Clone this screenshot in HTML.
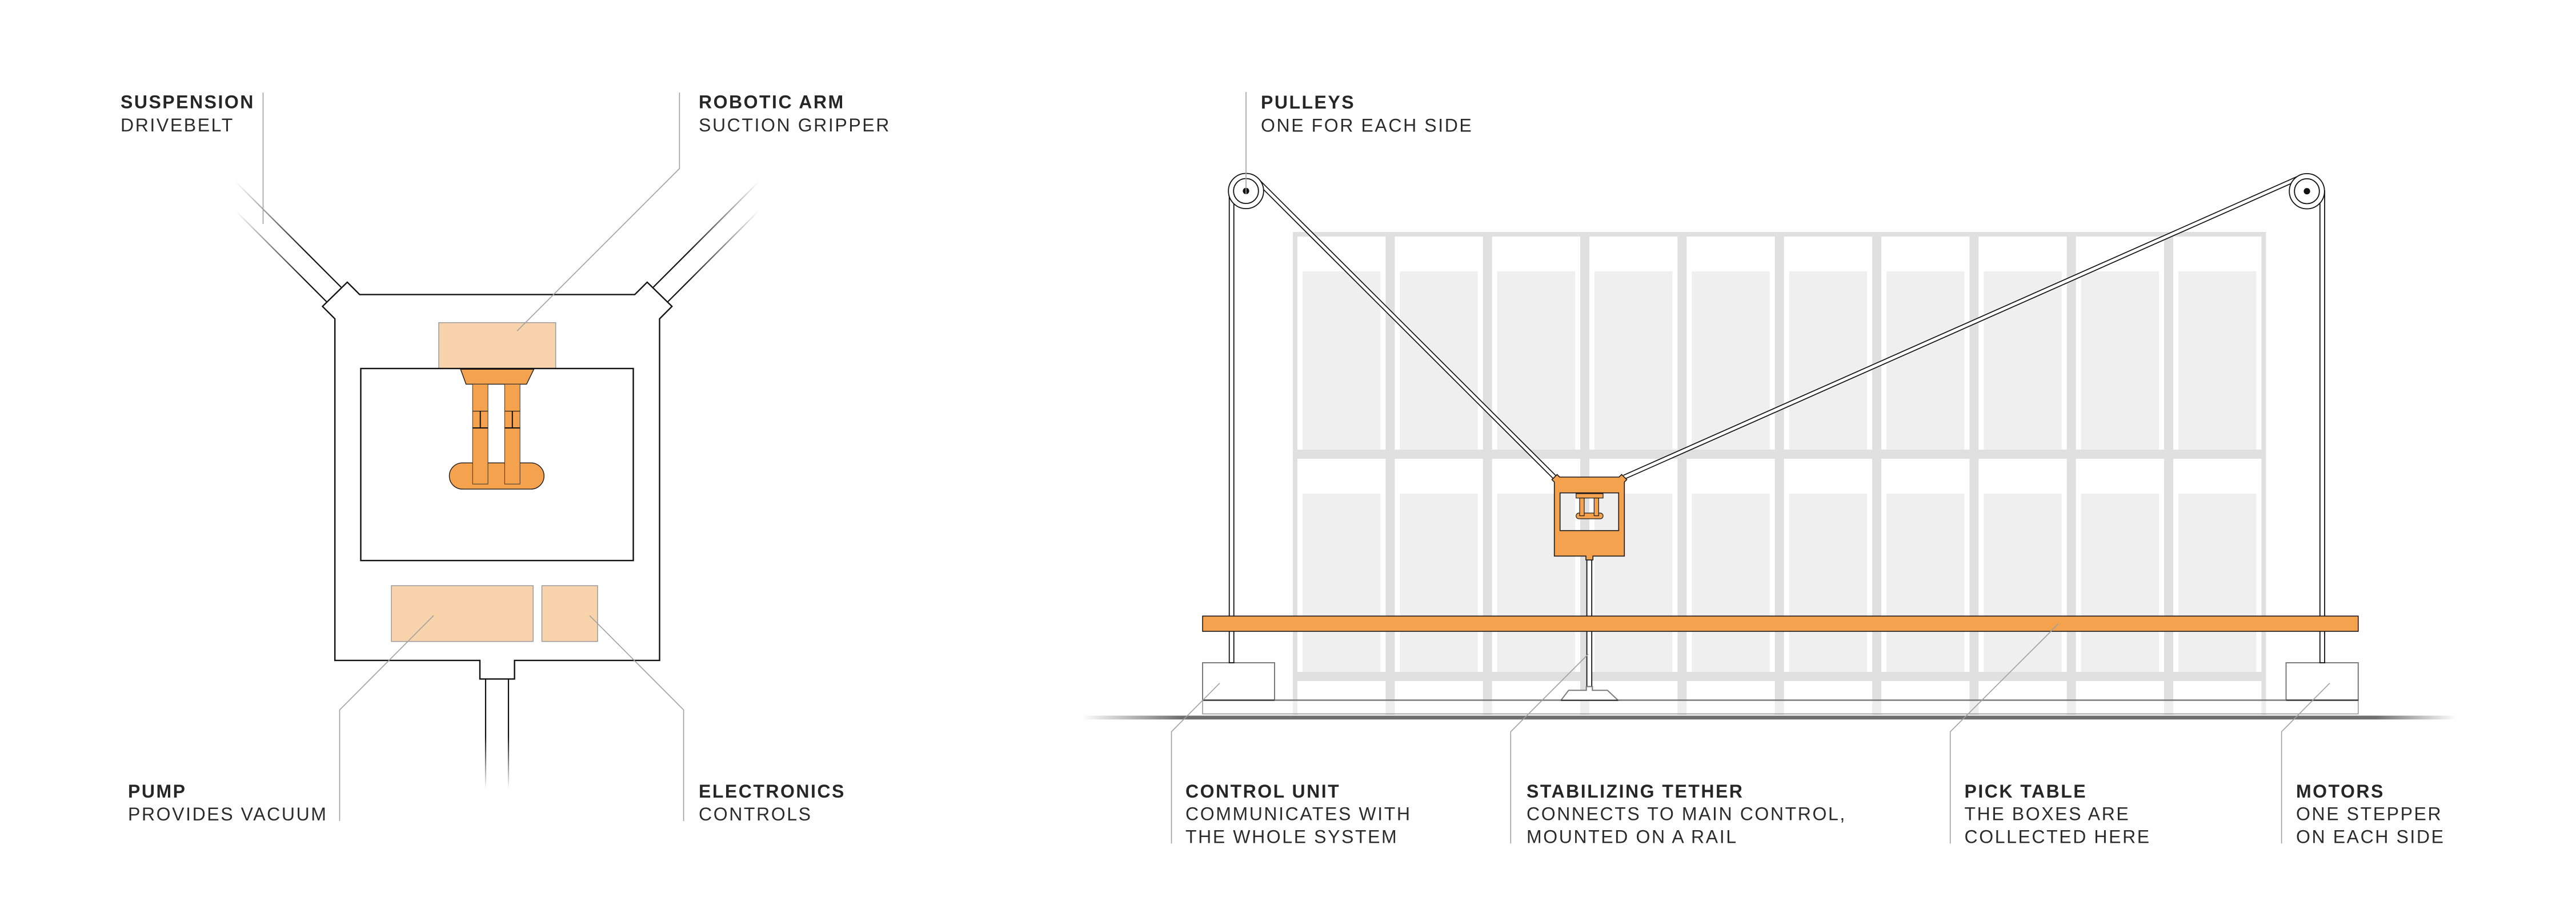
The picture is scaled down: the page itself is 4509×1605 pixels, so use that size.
<!DOCTYPE html>
<html>
<head>
<meta charset="utf-8">
<style>
  html,body{margin:0;padding:0;background:#fff;}
  svg{display:block;}
  .b{font-family:"Liberation Sans",Arial,sans-serif;font-weight:bold;font-size:32px;letter-spacing:2.5px;fill:#262626;}
  .r{font-family:"Liberation Sans",Arial,sans-serif;font-weight:normal;font-size:32px;letter-spacing:2.6px;fill:#2b2b2b;}
  .ld{fill:none;stroke:#a0a0a0;stroke-width:1.6;}
</style>
</head>
<body>
<svg width="4509" height="1605" viewBox="0 0 4509 1605" xmlns="http://www.w3.org/2000/svg">
<defs>
  <linearGradient id="gL" gradientUnits="userSpaceOnUse" x1="412" y1="0" x2="535" y2="0">
    <stop offset="0" stop-color="#111" stop-opacity="0"/>
    <stop offset="1" stop-color="#111" stop-opacity="1"/>
  </linearGradient>
  <linearGradient id="gR" gradientUnits="userSpaceOnUse" x1="1328.6" y1="0" x2="1205" y2="0">
    <stop offset="0" stop-color="#111" stop-opacity="0"/>
    <stop offset="1" stop-color="#111" stop-opacity="1"/>
  </linearGradient>
  <linearGradient id="gT" gradientUnits="userSpaceOnUse" x1="0" y1="1290" x2="0" y2="1380">
    <stop offset="0" stop-color="#111" stop-opacity="1"/>
    <stop offset="1" stop-color="#111" stop-opacity="0"/>
  </linearGradient>
  <linearGradient id="gG" gradientUnits="userSpaceOnUse" x1="1893" y1="0" x2="4300" y2="0">
    <stop offset="0" stop-color="#6f6f6f" stop-opacity="0"/>
    <stop offset="0.0723" stop-color="#6f6f6f" stop-opacity="1"/>
    <stop offset="0.941" stop-color="#6f6f6f" stop-opacity="1"/>
    <stop offset="1" stop-color="#6f6f6f" stop-opacity="0"/>
  </linearGradient>
  <pattern id="shelf" patternUnits="userSpaceOnUse" x="2263" y="406" width="170.34" height="389">
    <rect x="4" y="4" width="162.34" height="381" fill="none" stroke="#E0E0E0" stroke-width="8"/>
    <rect x="17" y="69" width="136.34" height="312" fill="#EFEFEF"/>
  </pattern>
</defs>

<!-- ================= LEFT DIAGRAM ================= -->
<!-- belts -->
<line x1="412" y1="317.6" x2="597" y2="502.6" stroke="url(#gL)" stroke-width="2.2"/>
<line x1="412" y1="368.5" x2="571.5" y2="528" stroke="url(#gL)" stroke-width="2.2"/>
<line x1="1328.6" y1="317.6" x2="1143.6" y2="502.6" stroke="url(#gR)" stroke-width="2.2"/>
<line x1="1328.6" y1="368.5" x2="1169.1" y2="528" stroke="url(#gR)" stroke-width="2.2"/>

<!-- tube -->
<line x1="850" y1="1188" x2="850" y2="1382" stroke="url(#gT)" stroke-width="2.2"/>
<line x1="890" y1="1188" x2="890" y2="1382" stroke="url(#gT)" stroke-width="2.2"/>

<!-- body -->
<path d="M629.6,515.6 L607.9,493.9 L564.5,536.3 L586.2,558 L586.2,1155.9 L840,1155.9 L840,1188.4 L900.6,1188.4 L900.6,1155.9 L1154.5,1155.9 L1154.5,558 L1176.2,536.3 L1132.8,493.9 L1111.1,515.6 Z"
      fill="#fff" stroke="#111" stroke-width="2.4" stroke-linejoin="miter"/>

<!-- top peach box -->
<rect x="768" y="564.7" width="204.7" height="80.3" fill="#F8D3AB" stroke="#9a9a9a" stroke-width="1.5"/>
<!-- inner window -->
<rect x="631.5" y="645" width="477" height="336.1" fill="#fff" stroke="#111" stroke-width="2.4"/>
<!-- trapezoid -->
<path d="M806.2,646.3 L934.4,646.3 L921.7,672.4 L815.8,672.4 Z" fill="#F4A24D" stroke="#1a1a1a" stroke-width="1.4"/>
<!-- pill foot -->
<rect x="786.5" y="810.2" width="165.8" height="45.9" rx="23" ry="23" fill="#F4A24D" stroke="#1a1a1a" stroke-width="1.4"/>
<!-- legs -->
<rect x="827.3" y="672.4" width="26.8" height="174.8" fill="#F4A24D" stroke="#333" stroke-width="1"/>
<rect x="883.4" y="672.4" width="26.8" height="174.8" fill="#F4A24D" stroke="#333" stroke-width="1"/>
<!-- joints -->
<line x1="827.3" y1="719.6" x2="854.1" y2="719.6" stroke="#222" stroke-width="1.2"/>
<line x1="827.3" y1="749" x2="854.1" y2="749" stroke="#111" stroke-width="2"/>
<line x1="840.7" y1="719.6" x2="840.7" y2="749" stroke="#111" stroke-width="2"/>
<line x1="883.4" y1="719.6" x2="910.2" y2="719.6" stroke="#222" stroke-width="1.2"/>
<line x1="883.4" y1="749" x2="910.2" y2="749" stroke="#111" stroke-width="2"/>
<line x1="896.8" y1="719.6" x2="896.8" y2="749" stroke="#111" stroke-width="2"/>

<!-- bottom peach boxes -->
<rect x="685.1" y="1025.1" width="248.1" height="97.6" fill="#F8D3AB" stroke="#9a9a9a" stroke-width="1.5"/>
<rect x="948.5" y="1025.1" width="97.5" height="97.6" fill="#F8D3AB" stroke="#9a9a9a" stroke-width="1.5"/>

<!-- left leaders -->
<polyline class="ld" points="460.5,162 460.5,392"/>
<polyline class="ld" points="1189.4,162 1189.4,295 905.1,579.3"/>
<polyline class="ld" points="759,1077.4 594.5,1242.6 594.5,1437"/>
<polyline class="ld" points="1032,1077.4 1196.6,1242.6 1196.6,1437"/>

<!-- left text -->
<text class="b" x="211" y="189.5">SUSPENSION</text>
<text class="r" x="211" y="230">DRIVEBELT</text>
<text class="b" x="1223" y="189.5">ROBOTIC ARM</text>
<text class="r" x="1223" y="230">SUCTION GRIPPER</text>
<text class="b" x="224" y="1396">PUMP</text>
<text class="r" x="224" y="1436">PROVIDES VACUUM</text>
<text class="b" x="1223" y="1396">ELECTRONICS</text>
<text class="r" x="1223" y="1436">CONTROLS</text>

<!-- ================= RIGHT DIAGRAM ================= -->
<!-- shelf -->
<rect x="2263" y="406" width="1703.4" height="845" fill="url(#shelf)"/>
<!-- base fade overlay -->
<rect x="2105" y="1225.5" width="2022.8" height="24" fill="#fff" fill-opacity="0.45"/>

<!-- ground -->
<rect x="1893" y="1252.6" width="2407" height="6.7" fill="url(#gG)"/>
<!-- base rect -->
<rect x="2105" y="1225.5" width="2022.8" height="24" fill="none" stroke="#9a9a9a" stroke-width="1.6"/>
<line x1="2105" y1="1225.5" x2="4127.8" y2="1225.5" stroke="#7a7a7a" stroke-width="2.5"/>

<!-- motor boxes -->
<rect x="2105" y="1160" width="126" height="65.5" fill="#fff" stroke="#7a7a7a" stroke-width="2"/>
<line x1="2105" y1="1225.5" x2="2231" y2="1225.5" stroke="#3c3c3c" stroke-width="2.5"/>
<rect x="4001.5" y="1160" width="126.3" height="65.5" fill="#fff" stroke="#7a7a7a" stroke-width="2"/>
<line x1="4001.5" y1="1225.5" x2="4127.8" y2="1225.5" stroke="#3c3c3c" stroke-width="2.5"/>

<!-- posts -->
<rect x="2151.7" y="334" width="8" height="826" fill="#fff" stroke="#111" stroke-width="1.8"/>
<rect x="4060.8" y="334" width="8.2" height="826" fill="#fff" stroke="#111" stroke-width="1.8"/>

<!-- tether rod and base -->
<rect x="2777.6" y="980" width="8.6" height="221.7" fill="#fff" stroke="#111" stroke-width="1.8"/>
<path d="M2776.7,1201.7 L2776.7,1208.3 L2745.7,1208.3 L2732.3,1225.7 L2832.3,1225.7 L2813.7,1208.3 L2787.3,1208.3 L2787.3,1201.7 Z"
      fill="#fff" stroke="#7a7a7a" stroke-width="2"/>
<line x1="2732.3" y1="1225.7" x2="2832.3" y2="1225.7" stroke="#3c3c3c" stroke-width="2.5"/>

<!-- belts -->
<line x1="2199.3" y1="314.5" x2="2721" y2="835" stroke="#111" stroke-width="8.6"/>
<line x1="2199.3" y1="314.5" x2="2721" y2="835" stroke="#fff" stroke-width="5.2"/>
<line x1="4027.6" y1="309.8" x2="2843" y2="835" stroke="#111" stroke-width="8.6"/>
<line x1="4027.6" y1="309.8" x2="2843" y2="835" stroke="#fff" stroke-width="5.2"/>

<!-- carriage -->
<path fill-rule="evenodd" d="M2730,835 L2725.5,830.5 L2716.5,839.5 L2720.7,843.7 L2720.7,973.3 L2776,973.3 L2776,980 L2788.3,980 L2788.3,973.3 L2843.3,973.3 L2843.3,843.7 L2847.5,839.5 L2838.5,830.5 L2834,835 Z M2730.7,862.7 L2833.3,862.7 L2833.3,928.7 L2730.7,928.7 Z"
      fill="#F4A24D" stroke="#1a1a1a" stroke-width="1.6"/>
<!-- mini gripper -->
<rect x="2758.7" y="864" width="47.3" height="7.7" fill="#F4A24D" stroke="#1a1a1a" stroke-width="1.2"/>
<rect x="2758.7" y="898" width="47.3" height="10" rx="5" ry="5" fill="#F4A24D" stroke="#1a1a1a" stroke-width="1.2"/>
<rect x="2765" y="871.7" width="8" height="31" fill="#F4A24D" stroke="#1a1a1a" stroke-width="1.2"/>
<rect x="2790.3" y="871.7" width="8" height="31" fill="#F4A24D" stroke="#1a1a1a" stroke-width="1.2"/>

<!-- table -->
<rect x="2105" y="1078.3" width="2022.8" height="26.7" fill="#F4A24D" stroke="#1a1a1a" stroke-width="1.6"/>

<!-- pulleys -->
<circle cx="2181" cy="334.3" r="30.8" fill="#fff" stroke="#111" stroke-width="1.8"/>
<circle cx="2181" cy="334.3" r="21.8" fill="none" stroke="#111" stroke-width="1.8"/>
<circle cx="2181" cy="334.3" r="5.6" fill="#111"/>
<circle cx="4038" cy="334.7" r="30.8" fill="#fff" stroke="#111" stroke-width="1.8"/>
<circle cx="4038" cy="334.7" r="21.8" fill="none" stroke="#111" stroke-width="1.8"/>
<circle cx="4038" cy="334.7" r="5.6" fill="#111"/>

<!-- right leaders -->
<polyline class="ld" points="2181,161 2181,340"/>
<polyline class="ld" points="2135,1195.7 2050.5,1280.7 2050.5,1476.5"/>
<polyline class="ld" points="2780,1145 2644.3,1280.7 2644.3,1476.5"/>
<polyline class="ld" points="3603,1092 3413.7,1280.7 3413.7,1476.5"/>
<polyline class="ld" points="4078,1195.7 3993.6,1280.7 3993.6,1476.5"/>

<!-- right text -->
<text class="b" x="2207" y="190">PULLEYS</text>
<text class="r" x="2207" y="230.5">ONE FOR EACH SIDE</text>

<text class="b" x="2075" y="1396">CONTROL UNIT</text>
<text class="r" x="2075" y="1435.5">COMMUNICATES WITH</text>
<text class="r" x="2075" y="1475.3">THE WHOLE SYSTEM</text>

<text class="b" x="2672" y="1396">STABILIZING TETHER</text>
<text class="r" x="2672" y="1435.5">CONNECTS TO MAIN CONTROL,</text>
<text class="r" x="2672" y="1475.3">MOUNTED ON A RAIL</text>

<text class="b" x="3438.5" y="1396">PICK TABLE</text>
<text class="r" x="3438.5" y="1435.5">THE BOXES ARE</text>
<text class="r" x="3438.5" y="1475.3">COLLECTED HERE</text>

<text class="b" x="4019" y="1396">MOTORS</text>
<text class="r" x="4019" y="1435.5">ONE STEPPER</text>
<text class="r" x="4019" y="1475.3">ON EACH SIDE</text>
</svg>
</body>
</html>
